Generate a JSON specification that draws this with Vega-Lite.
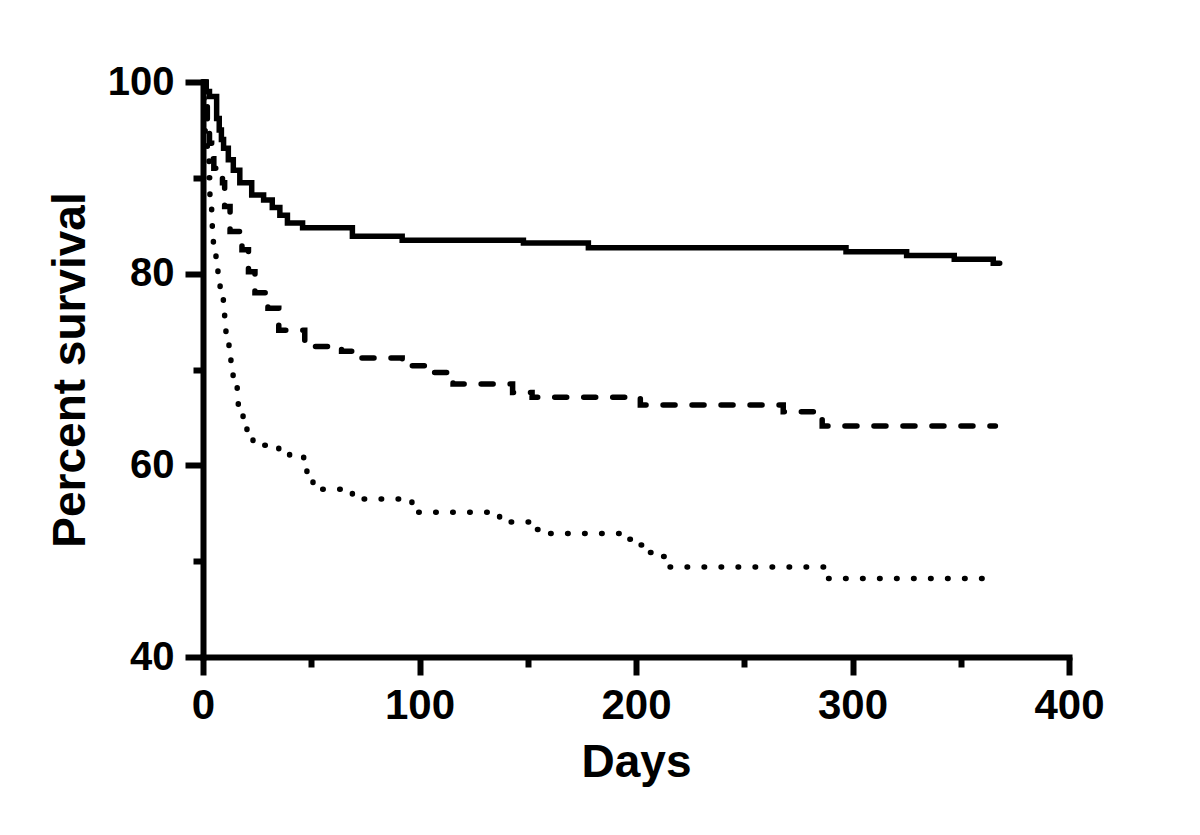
{
  "$schema": "https://vega.github.io/schema/vega-lite/v6.json",
  "width": 866,
  "height": 575,
  "autosize": "none",
  "padding": {"left": 203, "top": 82, "right": 131, "bottom": 178},
  "background": "white",
  "config": {"view": {"stroke": null}, "font": "Liberation Sans"},
  "data": {
    "values": [
      {"group": "A", "day": 0, "pct": 100},
      {"group": "A", "day": 1.5, "pct": 99},
      {"group": "A", "day": 3, "pct": 98.5},
      {"group": "A", "day": 6.3, "pct": 96.2},
      {"group": "A", "day": 7.5, "pct": 95},
      {"group": "A", "day": 8.5, "pct": 94},
      {"group": "A", "day": 9.5, "pct": 93.1},
      {"group": "A", "day": 11.7, "pct": 91.9},
      {"group": "A", "day": 14, "pct": 90.8},
      {"group": "A", "day": 17, "pct": 89.5},
      {"group": "A", "day": 22.5, "pct": 88.2},
      {"group": "A", "day": 28, "pct": 87.7},
      {"group": "A", "day": 32, "pct": 86.9},
      {"group": "A", "day": 35.5, "pct": 86.1},
      {"group": "A", "day": 39, "pct": 85.3},
      {"group": "A", "day": 46, "pct": 84.8},
      {"group": "A", "day": 69, "pct": 83.9},
      {"group": "A", "day": 92, "pct": 83.5},
      {"group": "A", "day": 148, "pct": 83.2},
      {"group": "A", "day": 178, "pct": 82.7},
      {"group": "A", "day": 297, "pct": 82.3},
      {"group": "A", "day": 325, "pct": 81.9},
      {"group": "A", "day": 347, "pct": 81.5},
      {"group": "A", "day": 365, "pct": 81.1},
      {"group": "A", "day": 368, "pct": 81.1},
      {"group": "B", "day": 0, "pct": 100},
      {"group": "B", "day": 1, "pct": 97.8},
      {"group": "B", "day": 2, "pct": 95},
      {"group": "B", "day": 3, "pct": 93.6},
      {"group": "B", "day": 4, "pct": 92},
      {"group": "B", "day": 5, "pct": 91},
      {"group": "B", "day": 9, "pct": 89.5},
      {"group": "B", "day": 10, "pct": 87},
      {"group": "B", "day": 12.5, "pct": 84.4},
      {"group": "B", "day": 18, "pct": 82.5},
      {"group": "B", "day": 21, "pct": 80.2},
      {"group": "B", "day": 24, "pct": 78},
      {"group": "B", "day": 30, "pct": 76.4},
      {"group": "B", "day": 35, "pct": 74.1},
      {"group": "B", "day": 47, "pct": 72.4},
      {"group": "B", "day": 64, "pct": 71.9},
      {"group": "B", "day": 72, "pct": 71.2},
      {"group": "B", "day": 92, "pct": 70.4},
      {"group": "B", "day": 103, "pct": 69.7},
      {"group": "B", "day": 115.5, "pct": 68.5},
      {"group": "B", "day": 143, "pct": 67.6},
      {"group": "B", "day": 152, "pct": 67.1},
      {"group": "B", "day": 202, "pct": 66.3},
      {"group": "B", "day": 268, "pct": 65.6},
      {"group": "B", "day": 282, "pct": 64.8},
      {"group": "B", "day": 286, "pct": 64.1},
      {"group": "B", "day": 366, "pct": 64.1},
      {"group": "C", "day": 0, "pct": 100},
      {"group": "C", "day": 0.5, "pct": 97},
      {"group": "C", "day": 1, "pct": 94},
      {"group": "C", "day": 2, "pct": 92},
      {"group": "C", "day": 2.8, "pct": 90},
      {"group": "C", "day": 3.2, "pct": 88.2},
      {"group": "C", "day": 4, "pct": 86.6},
      {"group": "C", "day": 4.3, "pct": 84.9},
      {"group": "C", "day": 4.8, "pct": 83.2},
      {"group": "C", "day": 6, "pct": 81.7},
      {"group": "C", "day": 6.9, "pct": 80},
      {"group": "C", "day": 7.9, "pct": 78.5},
      {"group": "C", "day": 9.4, "pct": 77},
      {"group": "C", "day": 10, "pct": 75.4},
      {"group": "C", "day": 10.6, "pct": 73.6},
      {"group": "C", "day": 12, "pct": 72.1},
      {"group": "C", "day": 12.9, "pct": 70.6},
      {"group": "C", "day": 13.9, "pct": 69.1},
      {"group": "C", "day": 15.8, "pct": 67.6},
      {"group": "C", "day": 16.3, "pct": 65.9},
      {"group": "C", "day": 18.5, "pct": 64.6},
      {"group": "C", "day": 20.3, "pct": 63.3},
      {"group": "C", "day": 23.1, "pct": 62.1},
      {"group": "C", "day": 35, "pct": 61.5},
      {"group": "C", "day": 40, "pct": 60.9},
      {"group": "C", "day": 46.5, "pct": 60.2},
      {"group": "C", "day": 48, "pct": 58.7},
      {"group": "C", "day": 50.8, "pct": 57.5},
      {"group": "C", "day": 69, "pct": 56.5},
      {"group": "C", "day": 96.5, "pct": 55.1},
      {"group": "C", "day": 137, "pct": 54.1},
      {"group": "C", "day": 152, "pct": 53.3},
      {"group": "C", "day": 157, "pct": 52.9},
      {"group": "C", "day": 195, "pct": 52.3},
      {"group": "C", "day": 200, "pct": 51.7},
      {"group": "C", "day": 205, "pct": 50.9},
      {"group": "C", "day": 210, "pct": 50.5},
      {"group": "C", "day": 214, "pct": 49.4},
      {"group": "C", "day": 288, "pct": 48.2},
      {"group": "C", "day": 363, "pct": 48.2}
    ]
  },
  "resolve": {"axis": {"x": "independent", "y": "independent"}},
  "layer": [
    {
      "mark": {"type": "point", "opacity": 0},
      "encoding": {
        "x": {
          "field": "day",
          "type": "quantitative",
          "scale": {"domain": [0, 400], "nice": false, "zero": false},
          "axis": {
            "orient": "bottom",
            "values": [50, 150, 250, 350],
            "tickSize": 10,
            "tickWidth": 6,
            "tickColor": "black",
            "domain": false,
            "labels": false,
            "grid": false,
            "title": null
          }
        },
        "y": {
          "field": "pct",
          "type": "quantitative",
          "scale": {"domain": [40, 100], "nice": false, "zero": false},
          "axis": {
            "orient": "left",
            "values": [50, 70, 90],
            "tickSize": 10,
            "tickWidth": 6,
            "tickColor": "black",
            "domain": false,
            "labels": false,
            "grid": false,
            "title": null
          }
        }
      }
    },
    {
      "mark": {"type": "line", "interpolate": "step-after", "strokeWidth": 5.5, "strokeCap": "round", "color": "black"},
      "encoding": {
        "x": {
          "field": "day",
          "type": "quantitative",
          "scale": {"domain": [0, 400], "nice": false, "zero": false},
          "axis": {
            "orient": "bottom",
            "values": [0, 100, 200, 300, 400],
            "tickSize": 18,
            "domainWidth": 6,
            "domainColor": "black",
            "domainCap": "square",
            "tickWidth": 6,
            "tickColor": "black",
            "grid": false,
            "labelFont": "Liberation Sans",
            "labelFontWeight": "bold",
            "labelFontSize": 42,
            "labelColor": "black",
            "labelPadding": 10,
            "labelFlush": false,
            "labelOverlap": false,
            "title": "Days",
            "titleFont": "Liberation Sans",
            "titleFontWeight": "bold",
            "titleFontSize": 46,
            "titleColor": "black",
            "titlePadding": 14
          }
        },
        "y": {
          "field": "pct",
          "type": "quantitative",
          "scale": {"domain": [40, 100], "nice": false, "zero": false},
          "axis": {
            "orient": "left",
            "values": [40, 60, 80, 100],
            "tickSize": 18,
            "domainWidth": 6,
            "domainColor": "black",
            "domainCap": "square",
            "tickWidth": 6,
            "tickColor": "black",
            "grid": false,
            "labelFont": "Liberation Sans",
            "labelFontWeight": "bold",
            "labelFontSize": 40,
            "labelColor": "black",
            "labelPadding": 11,
            "labelFlush": false,
            "labelOverlap": false,
            "title": "Percent survival",
            "titleFont": "Liberation Sans",
            "titleFontWeight": "bold",
            "titleFontSize": 46,
            "titleColor": "black",
            "titlePadding": 13
          }
        },
        "strokeDash": {
          "field": "group",
          "type": "nominal",
          "scale": {"domain": ["A", "B", "C"], "range": [[1, 0], [12, 17], [0.5, 16.5]]},
          "legend": null
        }
      }
    }
  ]
}
